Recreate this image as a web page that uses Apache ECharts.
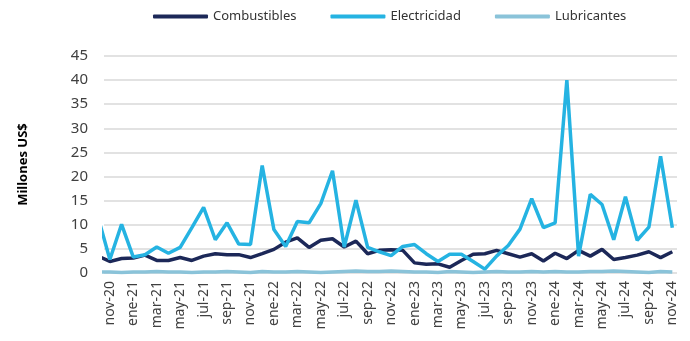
<!DOCTYPE html>
<html>
<head>
<meta charset="utf-8">
<script src="https://cdn.jsdelivr.net/npm/echarts@6/dist/echarts.min.js"></script>
<style>html,body{margin:0;padding:0;background:#fff}#c{width:690px;height:341px}</style>
</head>
<body>
<div id="c"></div>
<script>
// Months (first one, oct-20, is only partially visible at the left edge)
var months = ['oct-20','nov-20','dic-20','ene-21','feb-21','mar-21','abr-21','may-21','jun-21','jul-21','ago-21','sep-21','oct-21','nov-21','dic-21','ene-22','feb-22','mar-22','abr-22','may-22','jun-22','jul-22','ago-22','sep-22','oct-22','nov-22','dic-22','ene-23','feb-23','mar-23','abr-23','may-23','jun-23','jul-23','ago-23','sep-23','oct-23','nov-23','dic-23','ene-24','feb-24','mar-24','abr-24','may-24','jun-24','jul-24','ago-24','sep-24','oct-24','nov-24'];
var combustibles = [3.5,2.4,3.0,3.1,3.7,2.6,2.6,3.2,2.6,3.5,4.0,3.8,3.8,3.2,4.0,4.9,6.4,7.3,5.3,6.8,7.1,5.4,6.6,4.0,4.7,4.8,4.7,2.1,1.8,1.9,1.2,2.6,3.9,4.0,4.7,4.0,3.3,4.0,2.5,4.1,3.0,4.7,3.5,4.9,2.8,3.2,3.7,4.4,3.2,4.4];
var electricidad = [11.5,2.8,10.1,3.3,3.8,5.4,4.1,5.3,9.4,13.6,6.9,10.4,6.0,5.9,22.3,9.0,5.5,10.7,10.4,14.4,21.2,5.4,15.1,5.3,4.4,3.6,5.5,5.9,4.0,2.4,3.9,3.9,2.4,0.8,3.5,5.7,9.1,15.4,9.4,10.4,40.0,3.5,16.3,14.2,6.9,15.8,6.8,9.5,24.2,9.4];
var lubricantes = [0.2,0.2,0.1,0.2,0.2,0.3,0.2,0.2,0.1,0.2,0.2,0.3,0.2,0.1,0.3,0.2,0.2,0.3,0.2,0.1,0.2,0.3,0.4,0.3,0.3,0.4,0.3,0.2,0.2,0.1,0.3,0.2,0.1,0.2,0.3,0.2,0.2,0.3,0.2,0.3,0.2,0.2,0.3,0.3,0.4,0.3,0.2,0.1,0.3,0.2];
var yTicks = [0,5,10,15,20,25,30,35,40,45];
var xLabelValues = [];
for (var k = 0; k <= 48; k += 2) xLabelValues.push(k);

function pairs(arr){ return arr.map(function(v,i){ return [i-1, v]; }); }
function labelFor(v){ var i = Math.round(v) + 1; return months[i] || ''; }

var chart = echarts.init(document.getElementById('c'), null, {renderer:'canvas'});
var font = '"Noto Sans", sans-serif';
chart.setOption({
  animation:false,
  textStyle:{fontFamily:font},
  legend:{
    top:5, left:148,
    itemWidth:55, itemHeight:4, itemGap:34,
    icon:'roundRect',
    textStyle:{fontSize:13, color:'#333', fontFamily:font},
    data:['Combustibles','Electricidad','Lubricantes']
  },
  grid:{left:104, right:13, top:56, bottom:68, containLabel:false},
  xAxis:{
    type:'value', min:-0.5, max:48.4,
    axisLine:{show:false}, axisTick:{show:false}, splitLine:{show:false},
    axisLabel:{
      customValues:xLabelValues,
      rotate:90, fontSize:14, color:'#404040', margin:8, fontFamily:font,
      formatter:function(v){ return labelFor(v); }
    }
  },
  yAxis:{
    type:'value', min:yTicks[0], max:yTicks[yTicks.length-1], interval:5,
    name:'Millones US$', nameLocation:'middle', nameGap:74, nameRotate:90,
    nameTextStyle:{fontSize:13, fontWeight:'bold', color:'#000', fontFamily:font},
    axisLine:{show:false}, axisTick:{show:false},
    axisLabel:{fontSize:15, color:'#404040', margin:16, fontFamily:font},
    splitLine:{lineStyle:{color:'#d9d9d9', width:1.5}}
  },
  series:[
    {name:'Combustibles', type:'line', data:pairs(combustibles), showSymbol:false, symbol:'none', clip:true,
      lineStyle:{width:3.5, color:'#1c2858'}, itemStyle:{color:'#1c2858'}, z:3},
    {name:'Electricidad', type:'line', data:pairs(electricidad), showSymbol:false, symbol:'none', clip:true,
      lineStyle:{width:3.5, color:'#25b3e2'}, itemStyle:{color:'#25b3e2'}, z:4},
    {name:'Lubricantes', type:'line', data:pairs(lubricantes), showSymbol:false, symbol:'none', clip:true,
      lineStyle:{width:3.5, color:'#8ac3d9'}, itemStyle:{color:'#8ac3d9'}, z:2}
  ]
});
</script>
</body>
</html>
